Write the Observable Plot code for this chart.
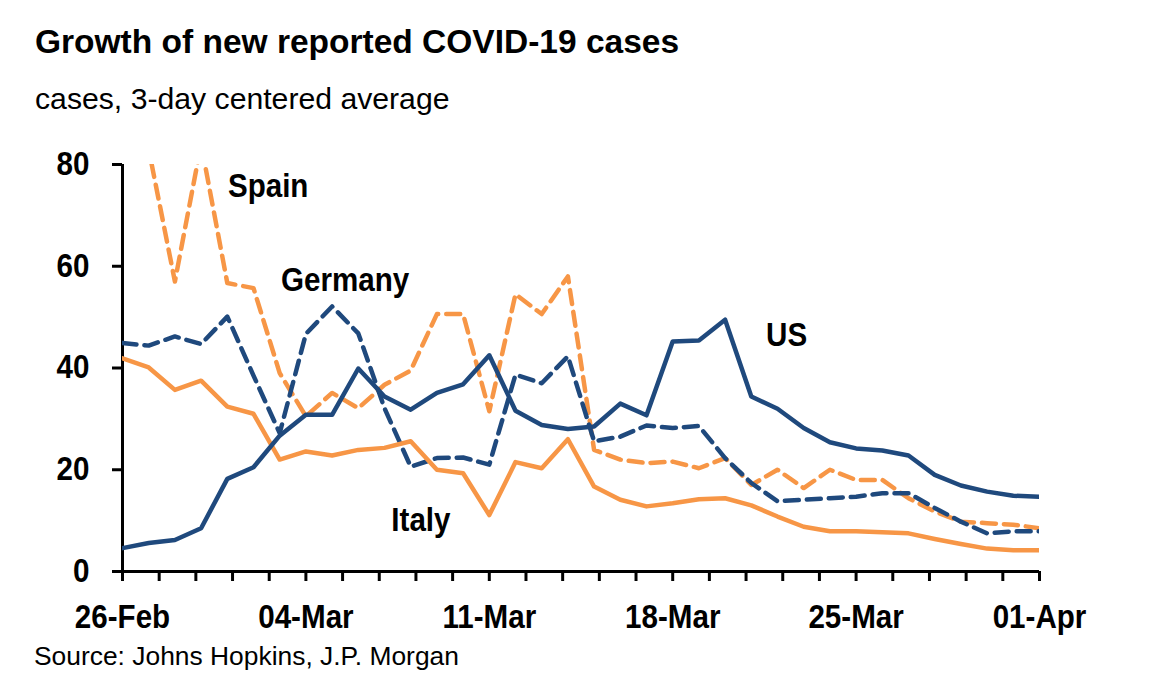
<!DOCTYPE html>
<html>
<head>
<meta charset="utf-8">
<script src="https://cdn.jsdelivr.net/npm/d3@7"></script>
<script src="https://cdn.jsdelivr.net/npm/@observablehq/plot@0.6"></script>
<style>
  html, body { margin: 0; padding: 0; background: #fff; }
  body { width: 1157px; height: 692px; position: relative; overflow: hidden;
         font-family: "Liberation Sans", Arial, sans-serif; color: #000; }
  .txt { position: absolute; left: 35px; white-space: nowrap; line-height: 1; }
  #title { top: 25px; font-size: 33.5px; font-weight: bold; }
  #subtitle { top: 84px; font-size: 30.2px; }
  #source { top: 643px; left: 34px; font-size: 26.4px; }
  #chart { position: absolute; left: 0; top: 135px; }
</style>
</head>
<body>
<div id="title" class="txt">Growth of new reported COVID-19 cases</div>
<div id="subtitle" class="txt">cases, 3-day centered average</div>
<div id="chart"></div>
<div id="source" class="txt">Source: Johns Hopkins, J.P. Morgan</div>
<script>
// ---- data ----
const startDate = "2020-02-26";
const dayCount = 36;
const us      = [4.6,5.6,6.2,8.5,18.2,20.5,26.7,30.8,30.8,39.9,34.4,31.8,35.1,36.8,42.5,31.6,28.8,28.0,28.5,33.0,30.7,45.2,45.4,49.5,34.4,32.0,28.2,25.4,24.2,23.8,22.8,19.0,16.9,15.7,14.9,14.7];
const germany = [44.9,44.4,46.2,44.7,50.1,38.5,27.2,46.7,52.1,46.8,32.1,20.6,22.3,22.4,21.0,38.7,37.0,42.3,25.6,26.5,28.7,28.2,28.6,22.3,17.4,13.8,14.1,14.4,14.7,15.4,15.4,12.5,9.8,7.5,7.9,7.9];
const italy   = [41.9,40.1,35.7,37.5,32.4,31.0,22.0,23.6,22.8,23.9,24.3,25.6,20.0,19.3,11.1,21.5,20.3,26.0,16.7,14.1,12.8,13.4,14.2,14.4,13.0,10.8,8.8,7.9,7.9,7.7,7.5,6.4,5.4,4.5,4.2,4.2];
const spain   = [110,83,57.0,84,56.7,55.7,39.0,30.5,35.1,32.1,36.7,39.5,50.6,50.6,31.5,54.5,50.6,58.0,23.9,22.0,21.3,21.6,20.3,22.3,17.0,20.0,16.4,20.0,18.0,18.0,14.4,11.8,9.8,9.5,9.2,8.5];
const yTicks = [0, 20, 40, 60, 80];
const labelNames  = ["Spain", "Germany", "US", "Italy"];
const labelDays   = [5.56, 8.5, 25.35, 11.39];
const labelValues = [75.7, 57.2, 46.4, 10.0];

const blue = "#1f497d";
const orange = "#f79646";

// ---- build ----
const start = new Date(startDate + "T00:00:00Z");
const DAY = 864e5;
const dates = d3.range(dayCount).map(i => d3.utcDay.offset(start, i));
const end = dates[dates.length - 1];
const toRows = vals => vals.map((v, i) => ({date: dates[i], value: v}));
const minorTicks = d3.range(26).map(k => new Date(start.getTime() + k * 7 * DAY / 5));
const labelTicks = d3.range(6).map(k => d3.utcDay.offset(start, 7 * k));
const labels = labelNames.map((n, i) => ({name: n, date: new Date(start.getTime() + labelDays[i] * DAY), value: labelValues[i]}));

const fontFam = '"Liberation Sans", Arial, sans-serif';

const chart = Plot.plot({
  width: 1157,
  height: 511,
  marginLeft: 122,
  marginRight: 118,
  marginTop: 29,
  marginBottom: 75,
  style: {fontFamily: fontFam, fontSize: "32.5px", fontWeight: "bold", color: "#000", background: "#fff", overflow: "visible"},
  x: {type: "utc", domain: [start, end]},
  y: {domain: [0, 80]},
  marks: [
    Plot.axisY({ticks: yTicks, tickSize: 10, tickPadding: 23, strokeWidth: 3, stroke: "#000", label: null, tickFormat: d => d}),
    Plot.axisX({ticks: minorTicks, tickSize: 10, strokeWidth: 3, stroke: "#000", label: null, tickFormat: () => ""}),
    Plot.axisX({ticks: labelTicks, tickSize: 0, tickPadding: 33, label: null, tickFormat: d3.utcFormat("%d-%b")}),
    Plot.ruleY([0], {stroke: "#000", strokeWidth: 3}),
    Plot.ruleX([start], {stroke: "#000", strokeWidth: 3}),
    Plot.line(toRows(spain),   {x: "date", y: "value", stroke: orange, strokeWidth: 4.5, strokeDasharray: "14,8", clip: true}),
    Plot.line(toRows(germany), {x: "date", y: "value", stroke: blue,   strokeWidth: 4.5, strokeDasharray: "14,8", clip: true}),
    Plot.line(toRows(italy),   {x: "date", y: "value", stroke: orange, strokeWidth: 4.5, clip: true}),
    Plot.line(toRows(us),      {x: "date", y: "value", stroke: blue,   strokeWidth: 4.5, clip: true}),
    Plot.text(labels, {x: "date", y: "value", text: "name", fill: "#000", fontSize: 32.5, fontWeight: "bold", textAnchor: "middle", lineAnchor: "middle"})
  ]
});
document.getElementById("chart").appendChild(chart);

// condense the bold chart labels slightly, as in the original narrow typeface
chart.querySelectorAll("text").forEach(t => {
  const len = t.getComputedTextLength();
  if (len > 0) {
    t.setAttribute("textLength", (len * 0.91).toFixed(1));
    t.setAttribute("lengthAdjust", "spacingAndGlyphs");
  }
});
</script>
</body>
</html>
